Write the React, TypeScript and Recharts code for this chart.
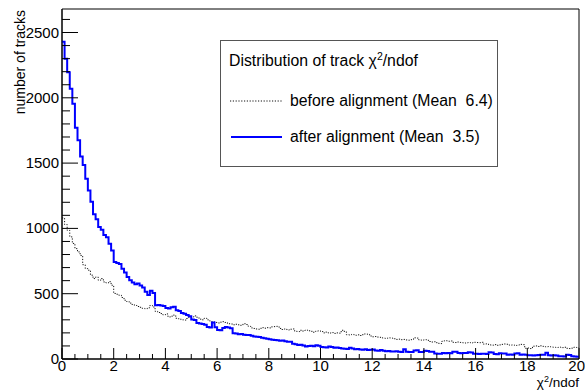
import React from 'react';
import { LineChart, Line, XAxis, YAxis, ReferenceArea } from 'recharts';

const binWidth = 0.1;

// before alignment (dotted), 200 bins of 0.1 in chi2/ndof
const before = [
	1080, 1030, 985, 935, 885, 845, 820, 793, 722, 692,
	680, 642, 616, 628, 603, 616, 590, 582, 592, 565,
	502, 496, 488, 471, 450, 440, 428, 418, 410, 402,
	396, 388, 385, 392, 410, 398, 365, 356, 348, 338,
	345, 322, 328, 336, 312, 308, 300, 298, 310, 318,
	322, 330, 320, 305, 300, 312, 300, 292, 285, 280,
	276, 282, 286, 280, 270, 268, 262, 266, 262, 258,
	270, 264, 250, 238, 234, 230, 228, 240, 236, 240,
	238, 246, 248, 250, 234, 226, 230, 222, 228, 230,
	212, 210, 220, 214, 222, 216, 212, 205, 212, 216,
	210, 200, 206, 198, 202, 196, 200, 198, 220, 212,
	186, 184, 188, 182, 185, 180, 186, 192, 190, 176,
	170, 172, 168, 166, 160, 158, 162, 160, 155, 150,
	152, 148, 150, 146, 144, 148, 162, 160, 146, 144,
	148, 143, 134, 130, 132, 120, 118, 138, 140, 136,
	138, 128, 126, 130, 127, 124, 122, 126, 123, 128,
	126, 125, 128, 114, 116, 108, 106, 110, 105, 108,
	112, 115, 113, 106, 108, 104, 107, 112, 110, 82,
	84, 80, 98, 100, 96, 101, 97, 93, 95, 92,
	90, 88, 91, 87, 90, 82, 80, 83, 90, 88,
];

// after alignment (blue)
const after = [
	2430, 2300, 2195, 2070, 1955, 1770, 1675, 1550, 1485, 1380,
	1290, 1205, 1108, 1070, 1010, 990, 950, 933, 883, 830,
	743, 735, 728, 692, 662, 628, 603, 585, 572, 578,
	562, 548, 515, 490, 522, 505, 412, 414, 410, 405,
	390, 386, 396, 400, 374, 368, 352, 346, 336, 328,
	302, 298, 276, 272, 268, 262, 245, 242, 280, 244,
	222, 220, 238, 245, 242, 236, 198, 196, 190, 192,
	186, 183, 184, 178, 172, 170, 168, 162, 158, 156,
	152, 148, 146, 144, 140, 141, 136, 133, 132, 116,
	112, 108, 110, 104, 96, 100, 101, 98, 106, 102,
	92, 90, 88, 96, 91, 86, 88, 84, 80, 78,
	76, 86, 80, 74, 76, 72, 71, 75, 69, 70,
	72, 66, 64, 68, 63, 60, 62, 58, 57, 60,
	55, 53, 74, 55, 54, 53, 66, 67, 54, 53,
	63, 62, 56, 55, 42, 40, 41, 45, 44, 46,
	44, 56, 55, 45, 44, 46, 45, 51, 50, 41,
	40, 39, 41, 40, 39, 51, 50, 38, 37, 44,
	43, 42, 33, 34, 32, 43, 44, 33, 34, 32,
	28, 29, 27, 28, 31, 33, 32, 47, 28, 27,
	28, 27, 21, 22, 20, 32, 30, 21, 20, 18,
];

const xTicks = [
	0, 0.5, 1, 1.5, 2, 2.5, 3, 3.5, 4, 4.5, 5, 5.5, 6, 6.5, 7, 7.5, 8, 8.5, 9, 9.5,
	10, 10.5, 11, 11.5, 12, 12.5, 13, 13.5, 14, 14.5, 15, 15.5, 16, 16.5, 17, 17.5,
	18, 18.5, 19, 19.5, 20,
];
const yTicks = [
	0, 100, 200, 300, 400, 500, 600, 700, 800, 900, 1000, 1100, 1200, 1300, 1400,
	1500, 1600, 1700, 1800, 1900, 2000, 2100, 2200, 2300, 2400, 2500, 2600,
];
const yMax = 2680;

const FONT = '"Liberation Sans", Arial, Helvetica, sans-serif';

const data = before.map((b, i) => ({
	x: Math.round(i * binWidth * 10) / 10,
	before: b,
	after: after[i],
}));
data.push({ x: 20, before: before[before.length - 1], after: after[after.length - 1] });

const XTick = ({ x, y, payload }: any) => {
	const v = payload.value;
	const major = Math.abs(v % 2) < 1e-6;
	// last label pulled in so it stays on the page
	const last = v === 20;
	return (
		<g>
			<line x1={x} x2={x} y1={y} y2={y - (major ? 11 : 5)} stroke="#000" />
			{major && (
				<text
					x={last ? 585 : x}
					y={y + 12}
					textAnchor={last ? 'end' : 'middle'}
					fontSize={15}
					fontFamily={FONT}
					fill="#000"
				>
					{v}
				</text>
			)}
		</g>
	);
};

const YTick = ({ x, y, payload }: any) => {
	const v = payload.value;
	const major = v % 500 === 0;
	return (
		<g>
			<line x1={x} x2={x + (major ? 16 : 8)} y1={y} y2={y} stroke="#000" />
			{major && (
				<text x={x - 3} y={y} dy={5} textAnchor="end" fontSize={15} fontFamily={FONT} fill="#000">
					{v}
				</text>
			)}
		</g>
	);
};

const App = () => {
	return (
		<div style={{ position: 'absolute', left: 0, top: 0, width: 585, height: 390, background: '#fff' }}>
			<LineChart width={585} height={390} data={data} margin={{ top: 9, right: 6, bottom: 0, left: 0 }}>
				<XAxis
					dataKey="x"
					type="number"
					domain={[0, 20]}
					ticks={xTicks}
					interval={0}
					height={31}
					tickSize={0}
					tickMargin={0}
					tickLine={false}
					axisLine={{ stroke: '#000' }}
					tick={<XTick />}
				/>
				<YAxis
					type="number"
					domain={[0, yMax]}
					ticks={yTicks}
					interval={0}
					width={62}
					tickSize={0}
					tickMargin={0}
					tickLine={false}
					axisLine={{ stroke: '#000' }}
					tick={<YTick />}
				/>
				<Line
					type="stepAfter"
					dataKey="before"
					stroke="#111"
					strokeWidth={1}
					strokeDasharray="1.2 1.6"
					dot={false}
					activeDot={false}
					isAnimationActive={false}
				/>
				<Line
					type="stepAfter"
					dataKey="after"
					stroke="#0000ff"
					strokeWidth={2}
					dot={false}
					activeDot={false}
					isAnimationActive={false}
				/>
				<ReferenceArea x1={0} x2={20} y1={0} y2={yMax} fill="none" stroke="#000" strokeWidth={1} />
			</LineChart>
			<svg
				width={585}
				height={390}
				style={{ position: 'absolute', left: 0, top: 0, pointerEvents: 'none', whiteSpace: 'pre' }}
				fontFamily={FONT}
			>
				{/* axis titles */}
				<text transform="translate(25,10) rotate(-90)" textAnchor="end" fontSize={14} fill="#000">
					number of tracks
				</text>
				<text x={579} y={386.5} textAnchor="end" fontSize={13.5} fill="#000">
					χ<tspan dy={-5} fontSize={9}>2</tspan>
					<tspan dy={5}>/ndof</tspan>
				</text>

				{/* legend */}
				<rect x={220.5} y={40.5} width={277} height={126} fill="#fff" stroke="#555" />
				<text x={229} y={66} fontSize={15.8} fill="#000">
					Distribution of track χ<tspan dy={-6} fontSize={10.5}>2</tspan>
					<tspan dy={6}>/ndof</tspan>
				</text>
				<line x1={230} x2={282} y1={101} y2={101} stroke="#111" strokeDasharray="1.2 1.6" />
				<text x={290} y={106} fontSize={15.8} fill="#000" xmlSpace="preserve">
					{'before alignment (Mean  6.4)'}
				</text>
				<line x1={231} x2={282} y1={137} y2={137} stroke="#0000ff" strokeWidth={2} />
				<text x={290} y={142} fontSize={15.8} fill="#000" xmlSpace="preserve">
					{'after alignment (Mean  3.5)'}
				</text>
			</svg>
		</div>
	);
};

export default App;
